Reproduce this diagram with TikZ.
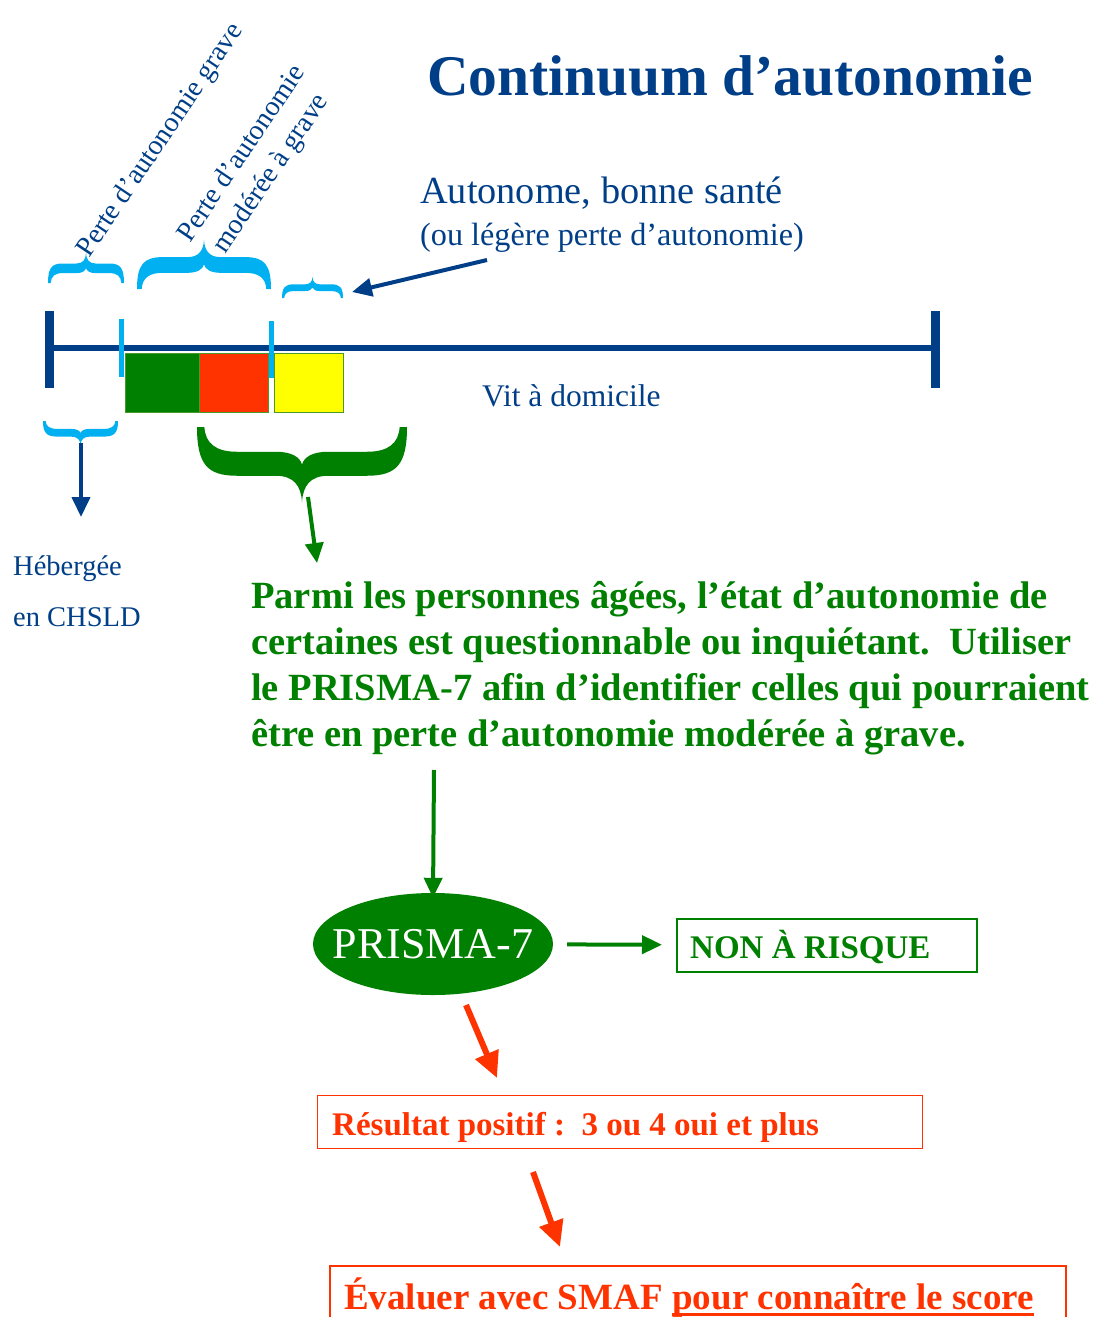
\documentclass[tikz,border=0pt]{standalone}
\usepackage{fontspec}
\setmainfont{Liberation Serif}
\usetikzlibrary{arrows.meta,shapes.geometric}
\definecolor{navy}{HTML}{003F87}
\definecolor{lightblue}{HTML}{00B0F0}
\definecolor{dkgreen}{HTML}{008000}
\definecolor{redor}{HTML}{FF3300}
\definecolor{yel}{HTML}{FFFF00}
\definecolor{rectedge}{HTML}{4A9A2A}
% filled curly brace: #1 colour, (#2,#3) centre of the ends line, #4 half width, #5 height (negative = tip up)
\newcommand\bracefill[5]{%
  \fill[#1, shift={(#2,#3)}, xscale=#4, yscale=#5]
      (-1,0) .. controls (-1,0.5) and (-0.9,0.65) .. (-0.62,0.65)
      -- (-0.25,0.65) .. controls (-0.08,0.65) and (-0.01,0.78) .. (0,1)
      .. controls (0.01,0.78) and (0.08,0.65) .. (0.25,0.65)
      -- (0.62,0.65) .. controls (0.9,0.65) and (1,0.5) .. (1,0)
      -- (0.93,0) .. controls (0.92,0.22) and (0.82,0.33) .. (0.62,0.33)
      -- (0.25,0.33) .. controls (0.1,0.33) and (0.02,0.4) .. (0,0.5)
      .. controls (-0.02,0.4) and (-0.1,0.33) .. (-0.25,0.33)
      -- (-0.62,0.33) .. controls (-0.82,0.33) and (-0.92,0.22) .. (-0.93,0) -- cycle;}
\tikzset{
  txt/.style={inner sep=0pt, anchor=base west},
  bluetxt/.style={txt, text=navy},
  greenpar/.style={txt, text=dkgreen, font=\fontsize{38.5}{46}\selectfont\bfseries},
  rottxt/.style={inner sep=0pt, text=navy, rotate=56, align=center, font=\fontsize{28}{35}\selectfont},
  bluearrow/.style={navy, line width=4, -{Triangle[length=20,width=18]}},
  greenarrow/.style={dkgreen, line width=4, -{Triangle[length=20,width=18]}},
  redarrow/.style={redor, line width=6, -{Triangle[length=26,width=24]}},
  framebox/.style={draw, inner sep=0pt, anchor=north west},
}
\begin{document}
\begin{tikzpicture}[x=1pt,y=-1pt]
\useasboundingbox[fill=white] (0,0) rectangle (1094,1317);

% title
\node[bluetxt, font=\fontsize{57.5}{60}\selectfont\bfseries] (title) at (427,95) {Continuum d’autonomie};

% rotated labels
\node[rottxt] (grave) at (161,141) {Perte d’autonomie grave};
\node[rottxt] (modgrave) at (257,164) {Perte d’autonomie\\modérée à grave};

% autonome labels
\node[bluetxt, font=\fontsize{38.3}{40}\selectfont] (auto) at (420,203) {Autonome, bonne santé};
\node[bluetxt, font=\fontsize{32.2}{34}\selectfont] (legere) at (420,245) {(ou légère perte d’autonomie)};

% braces above
\bracefill{lightblue}{86}{283}{38}{-30}
\bracefill{lightblue}{204}{289}{67}{-49}
\bracefill{lightblue}{312.5}{298}{30.5}{-21}

% timeline
\draw[navy, line width=6] (48,348) -- (935,348);
\draw[navy, line width=9] (49,311) -- (49,388);
\draw[navy, line width=9] (935,311) -- (935,388);
\filldraw[fill=dkgreen, draw=rectedge, line width=1] (125,353) rectangle (199,412);
\filldraw[fill=redor, draw=rectedge, line width=1] (199,353) rectangle (268,412);
\filldraw[fill=yel, draw=rectedge, line width=1] (274,353) rectangle (343,412);
\draw[lightblue, line width=5] (121,319) -- (121,377);
\draw[lightblue, line width=5] (271,321) -- (271,378);

\node[bluetxt, font=\fontsize{31.5}{33}\selectfont] (vit) at (482,406) {Vit à domicile};

% arrow to small brace
\coordinate (aS) at (487,260);
\coordinate (aE) at (352,292);
\draw[bluearrow] (aS) -- (aE);

% braces below
\bracefill{lightblue}{80.5}{421}{37.5}{24}
\bracefill{dkgreen}{302}{427}{105}{75}

\coordinate (hS) at (81,443);
\coordinate (hE) at (81,517);
\draw[bluearrow] (hS) -- (hE);

\node[bluetxt, font=\fontsize{28.5}{30}\selectfont] (heb) at (13,575) {Hébergée};
\node[bluetxt, font=\fontsize{28.5}{30}\selectfont] (chsld) at (13,626) {en CHSLD};

\coordinate (gS) at (308,497);
\coordinate (gE) at (317,563);
\draw[greenarrow] (gS) -- (gE);

% paragraph
\node[greenpar] (p1) at (251,608) {Parmi les personnes âgées, l’état d’autonomie de};
\node[greenpar] (p2) at (251,654) {certaines est questionnable ou inquiétant.\ \ Utiliser};
\node[greenpar] (p3) at (251,700) {le PRISMA-7 afin d’identifier celles qui pourraient};
\node[greenpar] (p4) at (251,746) {être en perte d’autonomie modérée à grave.};

% PRISMA
\node[ellipse, fill=dkgreen, minimum width=240, minimum height=102, inner sep=0pt] (prisma) at (433,944) {};
\node[inner sep=0pt, text=white, font=\fontsize{44}{46}\selectfont] (prismatxt) at (prisma.center) {PRISMA-7};
\coordinate (pS) at (434,770);
\draw[greenarrow] (pS) -- ([yshift=-5]prisma.north);

% non a risque
\node[framebox, draw=dkgreen, line width=1.5, minimum width=300, minimum height=53] (nonbox) at (676,918) {};
\node[txt, text=dkgreen, font=\fontsize{33}{35}\selectfont\bfseries] (nontxt) at (690,958) {NON À RISQUE};
\draw[greenarrow, shorten <=14, shorten >=14] (prisma) -- (nonbox);

% resultat
\coordinate (r1S) at (466,1005);
\coordinate (r1E) at (497,1078);
\draw[redarrow] (r1S) -- (r1E);
\node[framebox, draw=redor, line width=1.2, minimum width=605, minimum height=53] (resbox) at (317,1095) {};
\node[txt, text=redor, font=\fontsize{33}{35}\selectfont\bfseries] (restxt) at (332,1135) {Résultat positif :\ \ 3 ou 4 oui et plus};

\coordinate (r2S) at (533,1172);
\coordinate (r2E) at (560,1247);
\draw[redarrow] (r2S) -- (r2E);

% evaluer
\draw[redor, line width=1.2] (330,1330) -- (330,1266) -- (1066,1266) -- (1066,1330);
\node[txt, text=redor, font=\fontsize{37}{40}\selectfont\bfseries] (ev1) at (344,1309) {Évaluer avec SMAF};
\node[txt, text=redor, font=\fontsize{37}{40}\selectfont\bfseries, anchor=base west] (ev2) at ([xshift=9.25]ev1.base east) {pour connaître le score};
\draw[redor, line width=3] ([yshift=-5]ev2.base west) -- ([yshift=-5]ev2.base east);
\end{tikzpicture}
\end{document}
